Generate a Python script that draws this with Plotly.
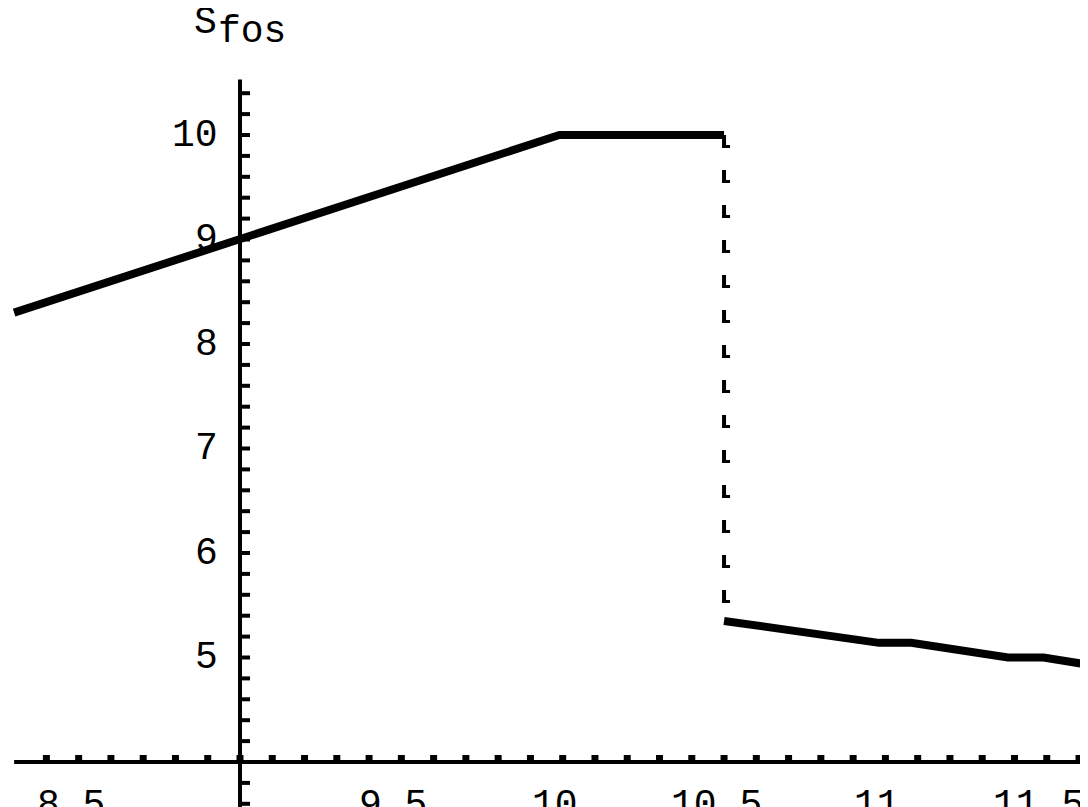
import plotly.graph_objects as go

# ---- data ----
upper_x = [8.30, 9.0, 9.99, 10.5]
upper_y = [8.30, 9.0, 10.0, 10.0]
jump_x = [10.5, 10.5]
jump_y = [10.0, 5.35]
lower_x = [10.5, 10.98, 11.08, 11.38, 11.49, 11.63]
lower_y = [5.35, 5.14, 5.14, 5.0, 5.0, 4.93]

x_label_vals = [8.5, 9.5, 10, 10.5, 11, 11.5]
x_label_text = ["8.5", "9.5", "10", "10.5", "11", "11.5"]
y_label_vals = [5, 6, 7, 8, 9, 10]
y_label_text = ["5", "6", "7", "8", "9", "10"]
x_minor = [round(8.4 + 0.1 * i, 1) for i in range(33)]
y_minor = [round(3.6 + 0.2 * i, 1) for i in range(35)]

axis_cross_x = 9.0
axis_cross_y = 4.0
x_axis_start = 8.30
y_axis_end = 10.53

# ---- figure geometry ----
W, H = 1088, 807
BODY = 8                      # page body margin offsets the figure
AX_X_PX = 240 - BODY          # pixel column of the vertical axis inside the figure
AX_Y_PX = 762 - BODY          # pixel row of the horizontal axis inside the figure
PX_PER_X = 322.7
PX_PER_Y = 104.5
x_range = [axis_cross_x - AX_X_PX / PX_PER_X, axis_cross_x + (W - AX_X_PX) / PX_PER_X]
y_range = [axis_cross_y - (H - AX_Y_PX) / PX_PER_Y, axis_cross_y + AX_Y_PX / PX_PER_Y]

FONT = "Liberation Mono, Courier New, monospace"
FS = 38

fig = go.Figure()

# axes lines
fig.add_trace(go.Scatter(x=[x_axis_start, x_range[1] + 0.1], y=[axis_cross_y, axis_cross_y],
                         mode="lines", line=dict(color="black", width=4), hoverinfo="skip"))
fig.add_trace(go.Scatter(x=[axis_cross_x, axis_cross_x], y=[y_range[0] - 0.1, y_axis_end],
                         mode="lines", line=dict(color="black", width=4), hoverinfo="skip"))

# x ticks (above axis)
tx, ty = [], []
tlen_y = 7 / PX_PER_Y
for v in x_minor:
    tx += [v, v, None]
    ty += [axis_cross_y, axis_cross_y + tlen_y, None]
fig.add_trace(go.Scatter(x=tx, y=ty, mode="lines", line=dict(color="black", width=7),
                         hoverinfo="skip"))
# y ticks (right of axis)
tx, ty = [], []
tlen_x = 10 / PX_PER_X
for v in y_minor:
    tx += [axis_cross_x, axis_cross_x + tlen_x, None]
    ty += [v, v, None]
fig.add_trace(go.Scatter(x=tx, y=ty, mode="lines", line=dict(color="black", width=4),
                         hoverinfo="skip"))

# data
fig.add_trace(go.Scatter(x=upper_x, y=upper_y, mode="lines",
                         line=dict(color="black", width=8), hoverinfo="skip"))
fig.add_trace(go.Scatter(x=jump_x, y=jump_y, mode="lines",
                         line=dict(color="black", width=4, dash="13px,22px"), hoverinfo="skip"))
# small feet on the dashes (L-shaped dash look)
foot_dx = 2 / PX_PER_X
fig.add_trace(go.Scatter(x=[v + foot_dx for v in jump_x], y=jump_y, mode="lines",
                         line=dict(color="black", width=8, dash="0px,10px,3px,22px"),
                         hoverinfo="skip"))
fig.add_trace(go.Scatter(x=lower_x, y=lower_y, mode="lines",
                         line=dict(color="black", width=8), hoverinfo="skip"))

annotations = []
for v, t in zip(x_label_vals, x_label_text):
    annotations.append(dict(x=v, y=axis_cross_y, xref="x", yref="y", text=t, showarrow=False,
                            xanchor="center", yanchor="middle", xshift=-8, yshift=-43,
                            font=dict(family=FONT, size=FS, color="black")))
for v, t in zip(y_label_vals, y_label_text):
    annotations.append(dict(x=axis_cross_x, y=v, xref="x", yref="y", text=t, showarrow=False,
                            xanchor="right", yanchor="middle", xshift=-20, yshift=0,
                            font=dict(family=FONT, size=FS, color="black")))
annotations.append(dict(x=(192 - BODY) / W, y=1 - (22 - BODY) / H, xref="paper", yref="paper",
                        text="S", showarrow=False, xanchor="left", yanchor="middle",
                        font=dict(family=FONT, size=FS, color="black")))
annotations.append(dict(x=(216 - BODY) / W, y=1 - (32 - BODY) / H, xref="paper", yref="paper",
                        text="fos", showarrow=False, xanchor="left", yanchor="middle",
                        font=dict(family=FONT, size=FS, color="black")))

fig.update_layout(
    width=W, height=H,
    margin=dict(l=0, r=0, t=0, b=0),
    paper_bgcolor="white", plot_bgcolor="white",
    showlegend=False,
    xaxis=dict(range=x_range, visible=False, fixedrange=True),
    yaxis=dict(range=y_range, visible=False, fixedrange=True),
    annotations=annotations,
    hovermode=False,
)

fig.write_html("out.html")
